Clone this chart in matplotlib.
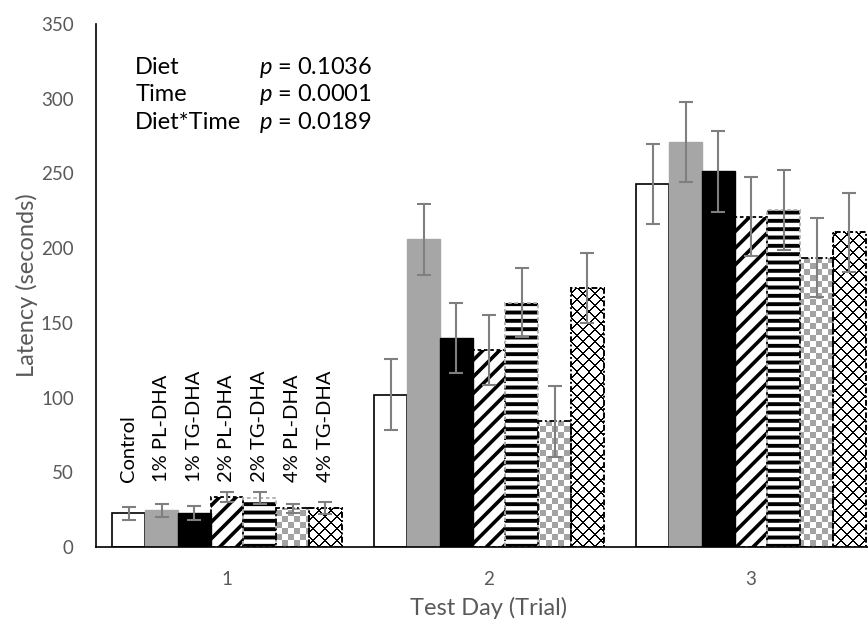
import matplotlib
matplotlib.use('Agg')
import matplotlib.pyplot as plt
import numpy as np

plt.rcParams['font.family'] = ['Lato', 'DejaVu Sans']
plt.rcParams['mathtext.fontset'] = 'custom'
plt.rcParams['mathtext.it'] = 'Lato:italic'
plt.rcParams['mathtext.rm'] = 'Lato'

days = ['1', '2', '3']
diets = ['Control', '1% PL-DHA', '1% TG-DHA', '2% PL-DHA',
         '2% TG-DHA', '4% PL-DHA', '4% TG-DHA']

# mean latency (s) per diet, one entry per test day
control = [22.5, 102, 243]
pl_1 = [24.5, 206, 271]
tg_1 = [23, 140, 251.5]
pl_2 = [33.5, 132, 221]
tg_2 = [32.5, 163.5, 225.5]
pl_4 = [26, 84, 193.5]
tg_4 = [26, 173.5, 210.5]

# standard error
err_control = [4.4, 23.7, 27]
err_pl_1 = [4.3, 23.8, 26.5]
err_tg_1 = [4.6, 23.4, 27]
err_pl_2 = [3.4, 23.5, 26.5]
err_tg_2 = [4.0, 23.2, 26.5]
err_pl_4 = [3.0, 23.6, 26.5]
err_tg_4 = [4.0, 23.3, 26.3]

stats_terms = ['Diet', 'Time', 'Diet*Time']
stats_p = ['0.1036', '0.0001', '0.0189']

means = [control, pl_1, tg_1, pl_2, tg_2, pl_4, tg_4]
errs = [err_control, err_pl_1, err_tg_1, err_pl_2, err_tg_2, err_pl_4, err_tg_4]

GREY = '#a6a6a6'
TXT = '#595959'

fig = plt.figure(figsize=(8.68, 6.24), dpi=100)
ax = fig.add_axes([96 / 868, 77 / 624, 786 / 868, 523 / 624])
ax.set_xlim(-0.5, 2.5)
ax.set_ylim(0, 350)

x = np.arange(len(days))
width = 0.125


def checker_texture(cell=6):
    h, w = 523, 786
    yy, xx = np.mgrid[0:h, 0:w]
    board = ((yy // cell + xx // cell) % 2).astype(float)
    rgb = np.ones((h, w, 3))
    rgb[board == 1] = 0.64
    return rgb


def cross_texture(period=12):
    h, w = 523, 786
    yy, xx = np.mgrid[0:h, 0:w]
    line = ((xx + yy) % period < 1.2) | ((xx - yy) % period < 1.2)
    rgb = np.ones((h, w, 3))
    rgb[line] = 0.0
    return rgb


def texture_fill(bars, rgb):
    for b in bars:
        im = ax.imshow(rgb, extent=(-0.5, 2.5, 0, 350), aspect='auto',
                       interpolation='nearest', origin='upper', zorder=1.5)
        im.set_clip_path(b)


def hatch_bars(pos, vals, hatch, lw):
    with plt.rc_context({'hatch.linewidth': lw}):
        bars = ax.bar(pos, vals, width, color='white', edgecolor='black',
                      linewidth=0, hatch=hatch, zorder=1.5)
    for b in bars:
        if hasattr(b, 'set_hatch_linewidth'):
            b.set_hatch_linewidth(lw)
    return bars


for j, (vals, err) in enumerate(zip(means, errs)):
    pos = x + (j - 3) * width
    if j == 0:
        ax.bar(pos, vals, width, color='white', edgecolor='black', linewidth=1.2, zorder=2)
    elif j == 1:
        ax.bar(pos, vals, width, color=GREY, edgecolor=GREY, linewidth=1, zorder=2)
    elif j == 2:
        ax.bar(pos, vals, width, color='black', edgecolor='black', linewidth=1, zorder=2)
    elif j == 3:
        hatch_bars(pos, vals, '//', 2.6)
        ax.bar(pos, vals, width, color='none', edgecolor='black', linewidth=1.3,
               linestyle=(0, (2, 1.5)), zorder=2)
    elif j == 4:
        hatch_bars(pos, vals, '--', 2.8)
        ax.bar(pos, vals, width, color='none', edgecolor='#b0b0b0', linewidth=1.3,
               linestyle=(0, (2, 1.5)), zorder=2)
    elif j == 5:
        bars = ax.bar(pos, vals, width, color='white', linewidth=0, zorder=1.2)
        texture_fill(bars, checker_texture())
        ax.bar(pos, vals, width, color='none', edgecolor='black', linewidth=1.3,
               linestyle=(0, (4, 1.5, 1, 1.5)), zorder=2)
    else:
        bars = ax.bar(pos, vals, width, color='white', linewidth=0, zorder=1.2)
        texture_fill(bars, cross_texture())
        ax.bar(pos, vals, width, color='none', edgecolor='black', linewidth=1.4,
               linestyle=(0, (3, 1.2, 1, 1.2)), zorder=2)
    ax.errorbar(pos, vals, yerr=err, fmt='none', ecolor='#7f7f7f',
                elinewidth=1.5, capsize=5, capthick=1.5, zorder=3)

    # diet names written above the first day's bars, on a common baseline
    ax.text(pos[0], 43.5, diets[j], rotation=90,
            ha='center', va='bottom', fontsize=14.5, color='black')

for i, (term, p) in enumerate(zip(stats_terms, stats_p)):
    ty = 0.917 - i * 0.0525
    ax.text(0.05, ty, term, transform=ax.transAxes, fontsize=17,
            ha='left', va='center')
    ax.text(0.207, ty, '$p$ = ' + p, transform=ax.transAxes, fontsize=17,
            ha='left', va='center')

ax.set_xticks(x)
ax.set_xticklabels(days)
ax.set_yticks(np.arange(0, 351, 50))
ax.tick_params(axis='both', length=0, labelsize=13.5, colors=TXT)
ax.tick_params(axis='y', pad=16)
ax.tick_params(axis='x', pad=17)
ax.set_xlabel('Test Day (Trial)', fontsize=17, color=TXT, labelpad=7)
ax.set_ylabel('Latency (seconds)', fontsize=17, color=TXT, labelpad=2)

for side in ['top', 'right']:
    ax.spines[side].set_visible(False)
ax.spines['left'].set_linewidth(1.2)
ax.spines['bottom'].set_linewidth(1.2)

fig.savefig('out.png', dpi=100)
plt.close(fig)
